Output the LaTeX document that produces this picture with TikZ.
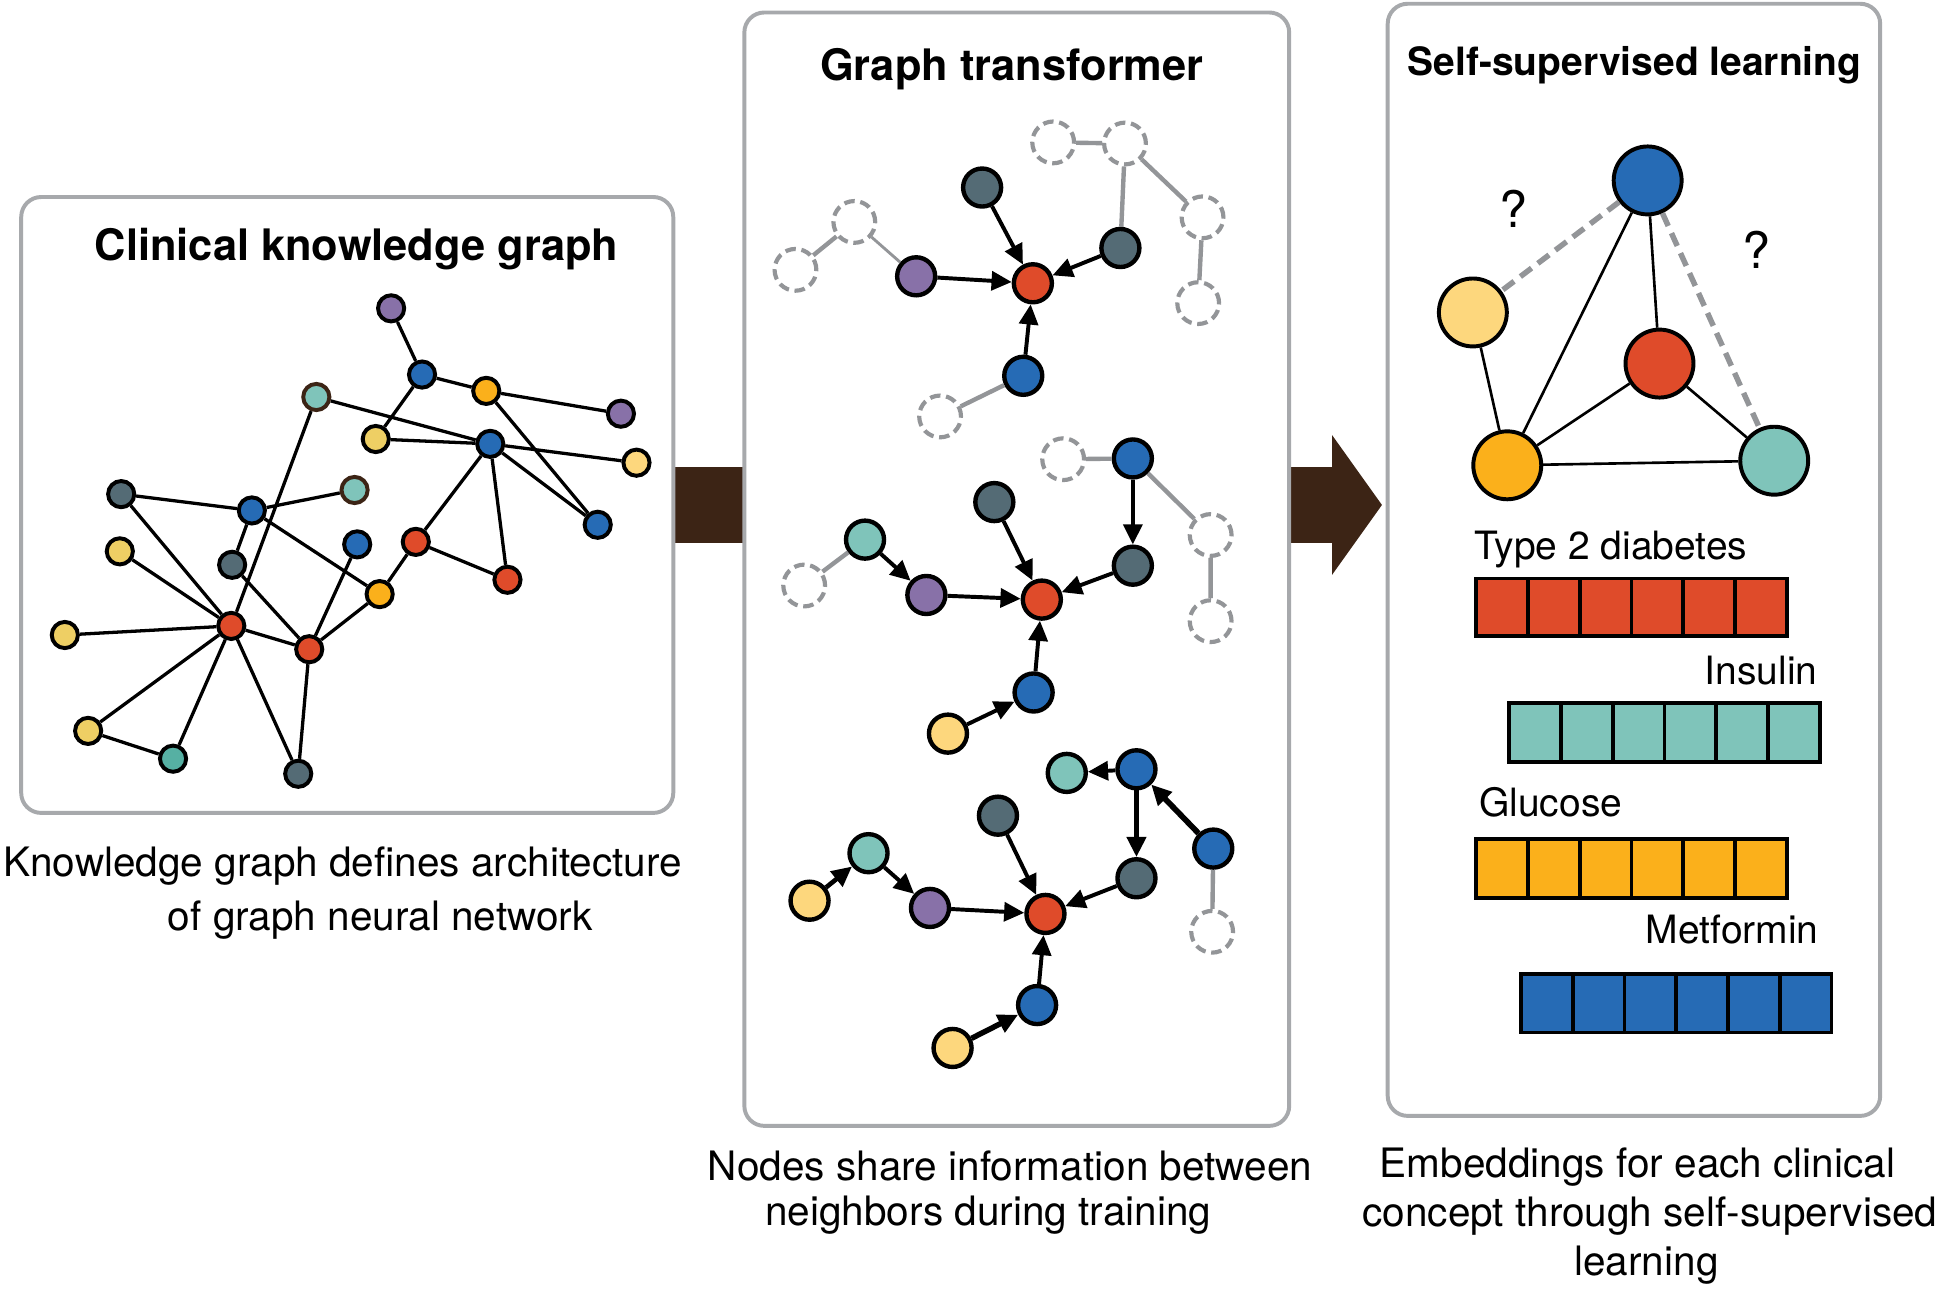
\documentclass[tikz,border=0pt]{standalone}
\usepackage{fontspec}
\setmainfont{TeX Gyre Heros}
\usetikzlibrary{arrows.meta,backgrounds}
\definecolor{redc}{HTML}{DF4B2A}
\definecolor{bluec}{HTML}{266BB5}
\definecolor{orangec}{HTML}{FBB01B}
\definecolor{yellowc}{HTML}{EECF64}
\definecolor{paleyellow}{HTML}{FDD77D}
\definecolor{purplec}{HTML}{8871A8}
\definecolor{tealc}{HTML}{7FC4BA}
\definecolor{darkteal}{HTML}{56B0A3}
\definecolor{grayc}{HTML}{546B75}
\definecolor{panelgray}{HTML}{A7A9AC}
\definecolor{linegray}{HTML}{939598}
\definecolor{brownc}{HTML}{3C2415}

\begin{document}
\begin{tikzpicture}[x=0.1mm,y=-0.1mm,>={Triangle[length=4.6pt,width=4.3pt]},
    panelbox/.style={draw=panelgray,line width=0.9pt,rounded corners=1.6mm,fill=white,inner sep=0pt},
    kgnode/.style={circle,draw,line width=0.9pt,inner sep=0pt,minimum size=2.1mm},
    tfnode/.style={circle,draw,line width=1pt,inner sep=0pt,minimum size=3.05mm},
    ghostnode/.style={circle,draw=linegray,line width=0.95pt,dash pattern=on 2.4pt off 1.3pt,fill=white,inner sep=0pt,minimum size=3.35mm},
    sslnode/.style={circle,draw,line width=0.9pt,inner sep=0pt,minimum size=5.45mm},
    kglink/.style={line width=0.75pt},
    msgarrow/.style={->,line width=0.9pt},
    faintlink/.style={draw=linegray,line width=1pt},
    bigarrow/.style={brownc,line width=6.1mm,-{Triangle[length=4mm,width=11mm]}},
    paneltitle/.style={font=\fontsize{9.9}{12}\selectfont\bfseries,inner sep=0pt,anchor=base},
    captext/.style={font=\fontsize{9.25}{11}\selectfont,inner sep=0pt,anchor=base west},
    vecname/.style={font=\fontsize{8.9}{11}\selectfont,inner sep=0pt},
    cellbox/.style={draw,line width=0.85pt}]
\useasboundingbox (0,0) rectangle (1568,1035);

\node[panelbox,minimum width=52.3mm,minimum height=49.4mm] (kgbox) at (278.5,405) {};
\node[panelbox,minimum width=39.5mm,minimum height=89.2mm] (sslbox) at (1310.5,449) {};
\node[panelbox,minimum width=43.7mm,minimum height=89.3mm] (tfbox) at (815.5,456.5) {};
\coordinate (tip) at ([xshift=-0.3mm]sslbox.west);
\begin{scope}[on background layer]
\draw[bigarrow] (kgbox.center) -- (tip |- kgbox.center);
\end{scope}

\node[paneltitle] (kgtitle) at (286,209) {Clinical knowledge graph};
\node[paneltitle] (tftitle) at (811.5,64.5) {Graph transformer};
\node[paneltitle,font=\fontsize{8.9}{11}\selectfont\bfseries] (ssltitle) at (1311,60.2) {Self-supervised learning};

% clinical knowledge graph
\node[kgnode,fill=purplec] (p1) at (313.7,247.3) {};
\node[kgnode,fill=bluec] (b1) at (338.5,300.4) {};
\node[kgnode,fill=orangec] (o1) at (390,313.5) {};
\node[kgnode,fill=purplec] (p2) at (498,331.8) {};
\node[kgnode,fill=tealc,draw=brownc] (t1) at (253.7,318.4) {};
\node[kgnode,fill=yellowc] (y1) at (301.4,352.1) {};
\node[kgnode,fill=bluec] (b2) at (393.2,356) {};
\node[kgnode,fill=paleyellow] (y2) at (510.5,371.1) {};
\node[kgnode,fill=grayc] (g1) at (97.2,396.3) {};
\node[kgnode,fill=bluec] (b3) at (202,409.4) {};
\node[kgnode,fill=tealc,draw=brownc] (t2) at (284.4,393) {};
\node[kgnode,fill=yellowc] (y3) at (96.1,442.2) {};
\node[kgnode,fill=grayc] (g2) at (186.2,453) {};
\node[kgnode,fill=bluec] (b4) at (286.5,436.6) {};
\node[kgnode,fill=redc] (r1) at (333.5,434.6) {};
\node[kgnode,fill=redc] (r2) at (407,465) {};
\node[kgnode,fill=bluec] (b5) at (479.4,420.9) {};
\node[kgnode,fill=orangec] (o2) at (304.5,476.5) {};
\node[kgnode,fill=redc] (r3) at (185.5,502) {};
\node[kgnode,fill=redc] (r4) at (248,520.7) {};
\node[kgnode,fill=yellowc] (y4) at (52,509.3) {};
\node[kgnode,fill=yellowc] (y5) at (70.7,586.2) {};
\node[kgnode,fill=darkteal] (t3) at (138.8,608.5) {};
\node[kgnode,fill=grayc] (g3) at (239.2,620.6) {};
\draw[kglink] (p1) -- (b1) (b1) -- (o1) (b1) -- (y1) (o1) -- (p2) (o1) -- (b5)
    (t1) -- (b2) (b2) -- (y2) (y1) -- (b2) (b2) -- (b5) (b2) -- (r1) (b2) -- (r2)
    (r1) -- (r2) (r1) -- (o2) (o2) -- (r4) (b3) -- (o2) (g1) -- (b3) (b3) -- (t2)
    (b3) -- (g2) (t1) -- (r3) (g1) -- (r3) (y3) -- (r3) (g2) -- (r4) (r3) -- (r4)
    (r4) -- (b4) (r4) -- (g3) (y4) -- (r3) (r3) -- (y5) (r3) -- (t3) (r3) -- (g3)
    (y5) -- (t3);

% graph transformer, first neighbourhood
\node[ghostnode] (d1) at (638,216.4) {};
\node[ghostnode] (d2) at (685.2,178) {};
\node[ghostnode] (d3) at (754,334) {};
\node[ghostnode] (d4) at (844.7,114.2) {};
\node[ghostnode] (d5) at (902.3,115.1) {};
\node[ghostnode] (d6) at (964.5,174.3) {};
\node[ghostnode] (d7) at (961,243.1) {};
\node[tfnode,fill=purplec] (tp) at (734.8,221.6) {};
\node[tfnode,fill=grayc] (tg1) at (787.7,150.4) {};
\node[tfnode,fill=redc] (tr) at (828.4,227.2) {};
\node[tfnode,fill=grayc] (tg2) at (898.6,198.9) {};
\node[tfnode,fill=bluec] (tb) at (820.7,301.4) {};
\draw[faintlink] (d1) -- (d2) (tb) -- (d3) (d4) -- (d5) (d5) -- (tg2) (d5) -- (d6) (d6) -- (d7);
\draw[faintlink,line width=0.65pt] (d2) -- (tp);
\draw[msgarrow] (tp) -- (tr);
\draw[msgarrow] (tg1) -- (tr);
\draw[msgarrow] (tg2) -- (tr);
\draw[msgarrow] (tb) -- (tr);

% second neighbourhood
\node[ghostnode] (d8) at (852.7,368.3) {};
\node[ghostnode] (d9) at (971,429.1) {};
\node[ghostnode] (d10) at (645,469.6) {};
\node[ghostnode] (d11) at (971,498.2) {};
\node[tfnode,fill=bluec] (mb1) at (908.6,367.7) {};
\node[tfnode,fill=grayc] (mg1) at (797.5,402.7) {};
\node[tfnode,fill=tealc] (mt) at (693.8,432.8) {};
\node[tfnode,fill=grayc] (mg2) at (908.6,453.7) {};
\node[tfnode,fill=purplec] (mp) at (743,477.2) {};
\node[tfnode,fill=redc] (mr) at (835.6,480.9) {};
\node[tfnode,fill=bluec] (mb2) at (829,555.4) {};
\node[tfnode,fill=paleyellow] (my) at (760.3,588.4) {};
\draw[faintlink] (d8) -- (mb1) (mb1) -- (d9) (d9) -- (d11) (mt) -- (d10);
\draw[msgarrow] (mb1) -- (mg2);
\draw[msgarrow] (mg2) -- (mr);
\draw[msgarrow] (mg1) -- (mr);
\draw[msgarrow] (mt) -- (mp);
\draw[msgarrow] (mp) -- (mr);
\draw[msgarrow] (mb2) -- (mr);
\draw[msgarrow] (my) -- (mb2);

% third neighbourhood
\node[ghostnode] (d12) at (972.2,747.3) {};
\node[tfnode,fill=tealc] (bt1) at (855.6,619.9) {};
\node[tfnode,fill=bluec] (bb1) at (911.5,617) {};
\node[tfnode,fill=grayc] (bg1) at (800.4,654.2) {};
\node[tfnode,fill=tealc] (bt2) at (696.6,684.3) {};
\node[tfnode,fill=bluec] (bb2) at (973.1,680.6) {};
\node[tfnode,fill=paleyellow] (by1) at (649.3,722.4) {};
\node[tfnode,fill=purplec] (bp) at (745.9,728.2) {};
\node[tfnode,fill=redc] (br) at (838.5,733) {};
\node[tfnode,fill=grayc] (bg2) at (911.5,704.4) {};
\node[tfnode,fill=bluec] (bb3) at (831.8,806.1) {};
\node[tfnode,fill=paleyellow] (by2) at (764,840.5) {};
\draw[faintlink] (bb2) -- (d12);
\draw[msgarrow] (bb1) -- (bt1);
\draw[msgarrow,line width=1.3pt] (bb2) -- (bb1);
\draw[msgarrow,line width=1.1pt] (bb1) -- (bg2);
\draw[msgarrow] (bg2) -- (br);
\draw[msgarrow] (bg1) -- (br);
\draw[msgarrow,line width=1.05pt] (by1) -- (bt2);
\draw[msgarrow] (bt2) -- (bp);
\draw[msgarrow] (bp) -- (br);
\draw[msgarrow] (bb3) -- (br);
\draw[msgarrow,line width=1.25pt] (by2) -- (bb3);

% self-supervised learning
\node[sslnode,fill=bluec] (sb) at (1321.5,144.7) {};
\node[sslnode,fill=paleyellow] (sy) at (1181.3,250.6) {};
\node[sslnode,fill=redc] (sr) at (1331,291.6) {};
\node[sslnode,fill=orangec] (so) at (1208.9,373.2) {};
\node[sslnode,fill=tealc] (st) at (1423,369.5) {};
\draw[line width=0.6pt] (sb) -- (sr) (sb) -- (so) (sy) -- (so) (so) -- (sr) (sr) -- (st) (so) -- (st);
\draw[linegray,line width=1.25pt,dash pattern=on 3.2pt off 1.8pt] (sb) -- (sy) (sb) -- (st);
\node[font=\fontsize{11.5}{12}\selectfont,inner sep=0pt] (q1) at (1214,167.6) {?};
\node[font=\fontsize{11.5}{12}\selectfont,inner sep=0pt] (q2) at (1408.4,200.5) {?};

\node[vecname,anchor=base west] (v1) at (1182,448.4) {Type 2 diabetes};
\foreach \i in {0,...,5}
    \draw[cellbox,fill=redc] (1184+41.5*\i,464) rectangle ++(41.5,46);
\node[vecname,anchor=base east] (v2) at (1458.3,549) {Insulin};
\foreach \i in {0,...,5}
    \draw[cellbox,fill=tealc] (1210.5+41.5*\i,564) rectangle ++(41.5,47);
\node[vecname,anchor=base west] (v3) at (1185.7,655) {Glucose};
\foreach \i in {0,...,5}
    \draw[cellbox,fill=orangec] (1184+41.5*\i,673) rectangle ++(41.5,47);
\node[vecname,anchor=base east] (v4) at (1459.2,756.5) {Metformin};
\foreach \i in {0,...,5}
    \draw[cellbox,fill=bluec] (1220+41.5*\i,781) rectangle ++(41.5,47);

% captions
\node[captext] (c1) at (2,703) {Knowledge graph defines architecture};
\node[captext] (c2) at (134,746) {of graph neural network};
\node[captext] (c3) at (567,947) {Nodes share information between};
\node[captext] (c4) at (613,983) {neighbors during training};
\node[captext] (c5) at (1106,944) {Embeddings for each clinical};
\node[captext] (c6) at (1092,984) {concept through self-supervised};
\node[captext] (c7) at (1262,1023) {learning};
\end{tikzpicture}
\end{document}
